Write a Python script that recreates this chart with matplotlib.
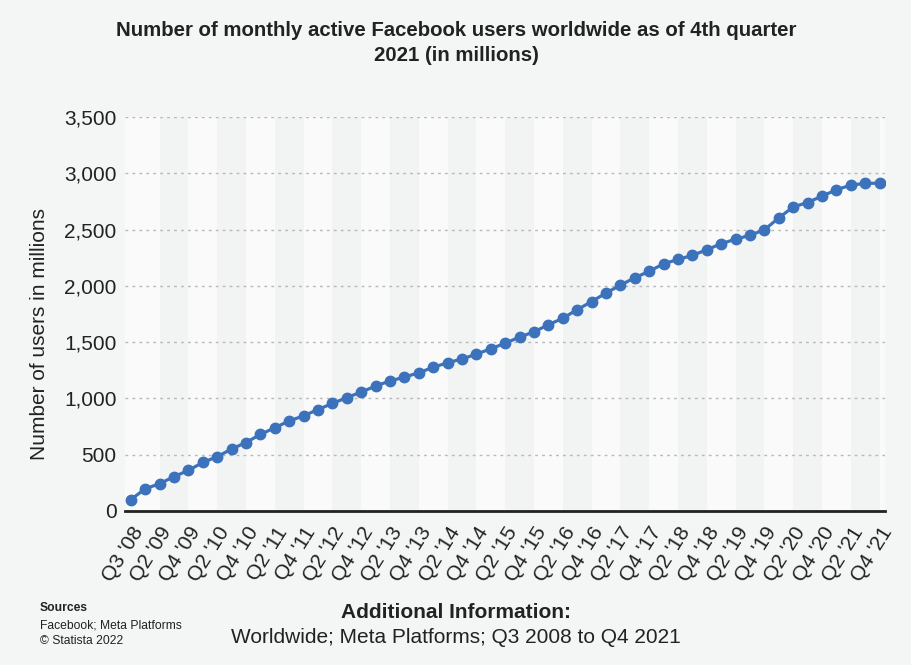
import numpy as np
import matplotlib
matplotlib.use('Agg')
import matplotlib.pyplot as plt

plt.rcParams['font.family'] = ['Liberation Sans', 'DejaVu Sans']

# quarterly data, Q4 2008 is not in the source
quarters = ["Q3 '08", "Q1 '09", "Q2 '09", "Q3 '09", "Q4 '09",
            "Q1 '10", "Q2 '10", "Q3 '10", "Q4 '10",
            "Q1 '11", "Q2 '11", "Q3 '11", "Q4 '11",
            "Q1 '12", "Q2 '12", "Q3 '12", "Q4 '12",
            "Q1 '13", "Q2 '13", "Q3 '13", "Q4 '13",
            "Q1 '14", "Q2 '14", "Q3 '14", "Q4 '14",
            "Q1 '15", "Q2 '15", "Q3 '15", "Q4 '15",
            "Q1 '16", "Q2 '16", "Q3 '16", "Q4 '16",
            "Q1 '17", "Q2 '17", "Q3 '17", "Q4 '17",
            "Q1 '18", "Q2 '18", "Q3 '18", "Q4 '18",
            "Q1 '19", "Q2 '19", "Q3 '19", "Q4 '19",
            "Q1 '20", "Q2 '20", "Q3 '20", "Q4 '20",
            "Q1 '21", "Q2 '21", "Q3 '21", "Q4 '21"]
users = [100, 197, 242, 305, 360,
         431, 482, 550, 608,
         680, 739, 800, 845,
         901, 955, 1007, 1056,
         1110, 1155, 1189, 1228,
         1276, 1317, 1350, 1393,
         1441, 1490, 1545, 1591,
         1654, 1712, 1788, 1860,
         1936, 2006, 2072, 2129,
         2196, 2234, 2271, 2320,
         2375, 2414, 2449, 2498,
         2603, 2701, 2740, 2797,
         2853, 2895, 2910, 2912]

bg = '#f4f5f5'
fig = plt.figure(figsize=(9.12, 6.65), dpi=100, facecolor=bg)
ax = fig.add_axes([0.137, 0.2316, 0.833, 0.5925])
ax.set_facecolor('#fafafa')

x = np.arange(len(quarters))

# alternating column bands
for i in range(2, len(quarters) + 2, 4):
    ax.axvspan(i, i + 2, color='#f2f3f3', lw=0, zorder=0)

ax.plot(x, users, color='#3c72bb', lw=2.3, marker='o', markersize=7.5, zorder=3)

ax.set_xlim(-0.4, len(quarters) - 1 + 0.35)
ax.set_ylim(0, 3500)
ax.set_yticks(range(0, 3501, 500))
ax.set_yticklabels([f'{v:,}' for v in range(0, 3501, 500)])
ax.yaxis.grid(True, ls=(0, (2, 3)), color='#b8b8b8', lw=1)
ax.set_axisbelow(True)

ax.set_xticks(x[::2])
ax.set_xticklabels(quarters[::2], rotation=58, ha='right', rotation_mode='anchor')

for s in ['top', 'right', 'left']:
    ax.spines[s].set_visible(False)
ax.spines['bottom'].set_color('#222222')
ax.spines['bottom'].set_linewidth(2)
ax.tick_params(axis='both', length=0, labelsize=15, colors='#222222', pad=6)
ax.tick_params(axis='x', pad=9)
ax.set_ylabel('Number of users in millions', fontsize=15, color='#222222')
ax.yaxis.set_label_coords(-0.1, 0.45)

fig.text(0.5, 0.968, 'Number of monthly active Facebook users worldwide as of 4th quarter\n2021 (in millions)',
         ha='center', va='top', fontsize=14.7, fontweight='bold', color='#222222', linespacing=1.4)

fig.text(0.044, 0.085, 'Sources', fontsize=8.7, fontweight='bold', color='#222222', va='center')
fig.text(0.044, 0.060, 'Facebook; Meta Platforms', fontsize=8.7, color='#222222', va='center')
fig.text(0.044, 0.036, '\u00a9 Statista 2022', fontsize=8.7, color='#222222', va='center')
fig.text(0.5, 0.079, 'Additional Information:', fontsize=15, fontweight='bold', color='#222222',
         ha='center', va='center')
fig.text(0.5, 0.042, 'Worldwide; Meta Platforms; Q3 2008 to Q4 2021', fontsize=15, color='#222222',
         ha='center', va='center')

fig.savefig('out.png', dpi=100, facecolor=bg)
